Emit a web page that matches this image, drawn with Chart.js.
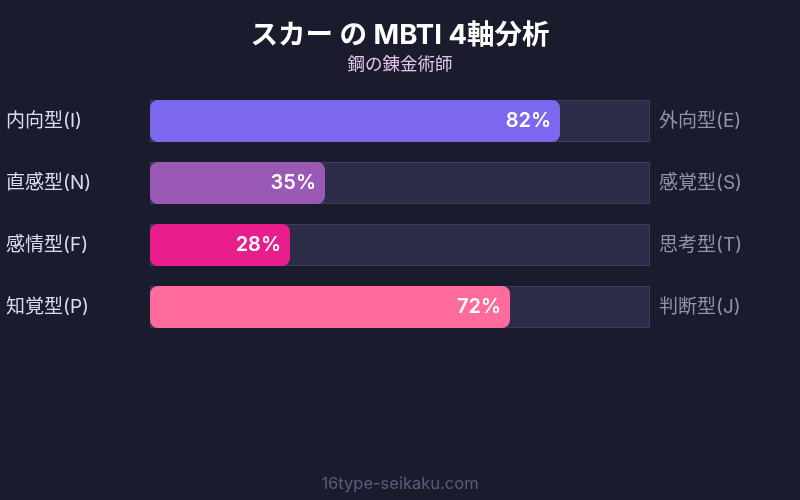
<!DOCTYPE html>
<html>
<head>
<meta charset="utf-8">
<script src="https://cdn.jsdelivr.net/npm/chart.js@4/dist/chart.umd.min.js"></script>
<style>
    body { margin: 0; background: #1b1b2e; font-family: Inter, 'Noto Sans CJK JP', sans-serif; }
    #wrap { position: relative; width: 800px; height: 500px; }
    #title { position: absolute; top: 12px; width: 100%; text-align: center; color: #ffffff; font-size: 27.5px; font-weight: bold; }
    #subtitle { position: absolute; top: 50px; width: 100%; text-align: center; color: #e4c4ec; font-size: 17.5px; }
    #footer { position: absolute; top: 473px; width: 100%; text-align: center; color: #5c5c7c; font-size: 16.5px; }
    canvas { position: absolute; top: 0; left: 0; }
</style>
</head>
<body>
<div id="wrap">
    <canvas id="chart" width="800" height="500"></canvas>
    <div id="title">スカー の MBTI 4軸分析</div>
    <div id="subtitle">鋼の錬金術師</div>
    <div id="footer">16type-seikaku.com</div>
</div>
<script>
const leftLabels = ['内向型(I)', '直感型(N)', '感情型(F)', '知覚型(P)'];
const rightLabels = ['外向型(E)', '感覚型(S)', '思考型(T)', '判断型(J)'];
const values = [82, 35, 28, 72];
const trackValues = [100, 100, 100, 100];
const barColors = ['#7b68ee', '#9b59b6', '#e91e8c', '#ff6b9d'];

const FONT = "Inter, 'Noto Sans CJK JP', sans-serif";

const valueLabels = {
    id: 'valueLabels',
    afterDatasetsDraw(chart) {
        const ctx = chart.ctx;
        const meta = chart.getDatasetMeta(1);
        ctx.save();
        ctx.font = '600 20px ' + FONT;
        ctx.fillStyle = '#ffffff';
        ctx.textAlign = 'right';
        ctx.textBaseline = 'middle';
        meta.data.forEach((bar, i) => {
            ctx.fillText(values[i] + '%', bar.x - 9, bar.y);
        });
        ctx.restore();
    }
};

const ctx = document.getElementById('chart').getContext('2d');
new Chart(ctx, {
    type: 'bar',
    data: {
        labels: leftLabels,
        datasets: [{
            data: trackValues,
            backgroundColor: '#2c2b48',
            borderColor: '#3d3c5e',
            borderWidth: 1,
            borderSkipped: false,
            grouped: false,
            order: 2
        }, {
            data: values,
            backgroundColor: barColors,
            borderWidth: 0,
            borderRadius: 8,
            borderSkipped: false,
            grouped: false,
            order: 1
        }]
    },
    options: {
        indexAxis: 'y',
        responsive: false,
        animation: false,
        layout: { padding: { top: 90, bottom: 162, left: 6, right: 0 } },
        categoryPercentage: 1,
        barPercentage: 0.68,
        plugins: { legend: { display: false }, tooltip: { enabled: false } },
        scales: {
            x: {
                min: 0,
                max: 100,
                display: false
            },
            y: {
                position: 'left',
                grid: { display: false },
                border: { display: false },
                afterFit(axis) { axis.width = 144; },
                ticks: {
                    crossAlign: 'far',
                    padding: 6,
                    color: '#dcdcec',
                    font: { family: FONT, size: 19 }
                }
            },
            y2: {
                position: 'right',
                type: 'category',
                labels: rightLabels,
                grid: { display: false },
                border: { display: false },
                afterFit(axis) { axis.width = 150; },
                ticks: {
                    padding: 1,
                    color: '#9292aa',
                    font: { family: FONT, size: 19 }
                }
            }
        }
    },
    plugins: [valueLabels]
});
</script>
</body>
</html>
